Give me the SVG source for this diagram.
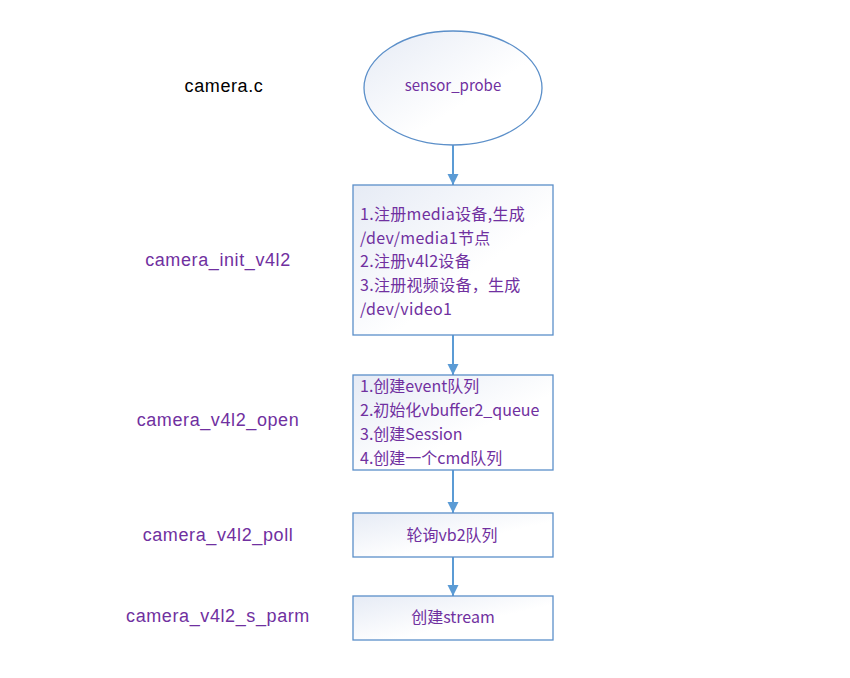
<svg xmlns="http://www.w3.org/2000/svg" width="850" height="678" viewBox="0 0 850 678">
<style>
.lbl{font-family:"Liberation Sans","Noto Sans CJK SC",sans-serif;font-size:18px;letter-spacing:0.6px;fill:#7030A0;text-anchor:middle}
.t{font-family:"Noto Sans CJK SC","Liberation Sans",sans-serif;font-size:16px;fill:#7030A0}
.node{fill:url(#g);stroke:#5B8FC9;stroke-width:1.3}
.conn{stroke:#5B9BD5;stroke-width:2;fill:none;marker-end:url(#ah)}
</style>
<defs>
<linearGradient id="g" x1="0" y1="0" x2="1" y2="1">
<stop offset="0" stop-color="#E6EBF5"/>
<stop offset="0.6" stop-color="#FFFFFF"/>
<stop offset="1" stop-color="#FFFFFF"/>
</linearGradient>
<marker id="ah" markerWidth="12" markerHeight="12" refX="11" refY="6" orient="auto" markerUnits="userSpaceOnUse">
<path d="M0,0.5 L11,6 L0,11.5 Z" fill="#5B9BD5"/>
</marker>
</defs>
<rect width="850" height="678" fill="#FFFFFF"/>
<g id="labels">
<text class="lbl" x="224" y="92" style="fill:#000000">camera.c</text>
<text class="lbl" x="218" y="266">camera_init_v4l2</text>
<text class="lbl" x="218" y="426">camera_v4l2_open</text>
<text class="lbl" x="218" y="541">camera_v4l2_poll</text>
<text class="lbl" x="218" y="622">camera_v4l2_s_parm</text>
</g>
<g id="connectors">
<line class="conn" x1="453" y1="145" x2="453" y2="185"/>
<line class="conn" x1="453" y1="335" x2="453" y2="375"/>
<line class="conn" x1="453" y1="470" x2="453" y2="513"/>
<line class="conn" x1="453" y1="557" x2="453" y2="596"/>
</g>
<g id="sensor_probe">
<ellipse class="node" cx="453" cy="88" rx="89" ry="57"/>
<text class="t" x="453" y="91" text-anchor="middle" style="font-size:15px">sensor_probe</text>
</g>
<g id="init_box">
<rect class="node" x="353" y="185" width="200" height="150"/>
<text class="t" x="360" y="220" style="letter-spacing:0.3px">1.注册media设备,生成</text>
<text class="t" x="360" y="244" style="letter-spacing:0.3px">/dev/media1节点</text>
<text class="t" x="360" y="267" style="letter-spacing:0.3px">2.注册v4l2设备</text>
<text class="t" x="360" y="291" style="letter-spacing:0.3px">3.注册视频设备，生成</text>
<text class="t" x="360" y="315" style="letter-spacing:0.3px">/dev/video1</text>
</g>
<g id="open_box">
<rect class="node" x="353" y="375" width="200" height="95"/>
<text class="t" x="360" y="392">1.创建event队列</text>
<text class="t" x="360" y="416">2.初始化vbuffer2_queue</text>
<text class="t" x="360" y="440">3.创建Session</text>
<text class="t" x="360" y="464">4.创建一个cmd队列</text>
</g>
<g id="poll_box">
<rect class="node" x="353" y="513" width="200" height="44"/>
<text class="t" x="452" y="541" text-anchor="middle">轮询vb2队列</text>
</g>
<g id="sparm_box">
<rect class="node" x="353" y="596" width="200" height="44"/>
<text class="t" x="453" y="623" text-anchor="middle">创建stream</text>
</g>
</svg>
